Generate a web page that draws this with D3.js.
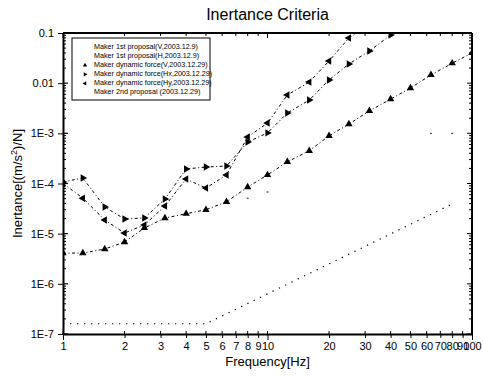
<!DOCTYPE html>
<html>
<head>
<meta charset="utf-8">
<script src="https://cdn.jsdelivr.net/npm/d3@7"></script>
<style>
  body { margin: 0; background: #fff; }
  text { font-family: "Liberation Sans", Arial, sans-serif; fill: #000; }
</style>
</head>
<body>
<div id="chart"></div>
<script>
// 1/3 octave band centre frequencies [Hz]
const freqs = [1, 1.25, 1.6, 2, 2.5, 3.15, 4, 5, 6.3, 8, 10, 12.5, 16, 20, 25, 31.5, 40, 50, 63, 80, 100];

// measured inertance [(m/s^2)/N]
const dynV  = [4.1e-6, 4.1e-6, 4.95e-6, 6.8e-6, 1.3e-5, 2.05e-5, 2.5e-5, 3.0e-5, 4.3e-5, 8.5e-5, 1.48e-4,
               2.7e-4, 4.5e-4, 8.9e-4, 1.53e-3, 2.8e-3, 4.8e-3, 8.0e-3, 0.0146, 0.025, 0.04];
const dynHx = [1.07e-4, 1.29e-4, 3.4e-5, 1.96e-5, 2.06e-5, 4.9e-5, 1.95e-4, 2.13e-4, 2.23e-4, 6.7e-4, 1.02e-3,
               2.54e-3, 4.6e-3, 0.0116, 0.0241, 0.0438, 0.091];
const dynHy = [1.0e-4, 5.1e-5, 1.87e-5, 1.03e-5, 1.49e-5, 3.56e-5, 1.23e-4, 8.1e-5, 1.48e-4, 8.45e-4, 1.6e-3,
               5.8e-3, 0.0105, 0.0277, 0.0795, 0.14];

// criteria lines
const secondFreq = [1, 5, 80];
const secondVal  = [1.6e-7, 1.6e-7, 3.9e-5];
// 1st proposal lines only show as faint fragments in the scan
const firstVFreq = [8, 10];
const firstVVal  = [5.1e-5, 6.8e-5];
const firstHFreq = [63, 80];
const firstHVal  = [1.0e-3, 1.0e-3];

const xTicks = [1, 2, 3, 4, 5, 6, 7, 8, 9, 10, 20, 30, 40, 50, 60, 70, 80, 90, 100];
const yTicks = [1e-7, 1e-6, 1e-5, 1e-4, 1e-3, 0.01, 0.1];
const yTickLabels = ["1E-7", "1E-6", "1E-5", "1E-4", "1E-3", "0.01", "0.1"];

const legendLabels = [
    "Maker  1st proposal(V,2003.12.9)",
    "Maker  1st proposal(H,2003.12.9)",
    "Maker  dynamic force(V,2003.12.29)",
    "Maker  dynamic force(Hx,2003.12.29)",
    "Maker  dynamic force(Hy,2003.12.29)",
    "Maker  2nd proposal  (2003.12.29)"
];

const W = 483, H = 379;
const margin = { top: 33, right: 11, bottom: 45, left: 63 };
const width = W - margin.left - margin.right;
const height = H - margin.top - margin.bottom;

const svg = d3.select("#chart").append("svg")
    .attr("width", W)
    .attr("height", H);

const x = d3.scaleLog().domain([1, 100]).range([0, width]);
const y = d3.scaleLog().domain([1e-7, 0.1]).range([height, 0]);

const g = svg.append("g")
    .attr("transform", `translate(${margin.left},${margin.top})`);

svg.append("defs").append("clipPath").attr("id", "clip")
    .append("rect").attr("width", width).attr("height", height);

// title
svg.append("text")
    .attr("x", margin.left + width / 2)
    .attr("y", 20)
    .attr("text-anchor", "middle")
    .style("font-size", "16px")
    .text("Inertance Criteria");

// minor ticks for y (2..9 in each decade)
const yMinor = [];
for (let e = -7; e < -1; e++) {
    for (let k = 2; k <= 9; k++) yMinor.push(k * Math.pow(10, e));
}

// left axis
const yAxis = d3.axisLeft(y).tickValues(yTicks)
    .tickFormat((d, i) => yTickLabels[i]).tickSize(5).tickSizeOuter(0);
const yg = g.append("g").call(yAxis);
yg.select(".domain").attr("stroke-width", 2);
yg.selectAll("text").style("font-size", "11px").attr("x", -9);

g.append("g").selectAll("line").data(yMinor).join("line")
    .attr("x1", 0).attr("x2", 3)
    .attr("y1", d => y(d)).attr("y2", d => y(d))
    .attr("stroke", "#000").attr("stroke-width", 1);
g.append("g").selectAll("line").data(yTicks).join("line")
    .attr("x1", 0).attr("x2", 5)
    .attr("y1", d => y(d)).attr("y2", d => y(d))
    .attr("stroke", "#000").attr("stroke-width", 1.2);

// right frame with inward ticks
g.append("line").attr("x1", width).attr("x2", width).attr("y1", 0).attr("y2", height)
    .attr("stroke", "#000").attr("stroke-width", 2);
g.append("g").selectAll("line").data(yMinor).join("line")
    .attr("x1", width - 3).attr("x2", width)
    .attr("y1", d => y(d)).attr("y2", d => y(d))
    .attr("stroke", "#000");
g.append("g").selectAll("line").data(yTicks).join("line")
    .attr("x1", width - 5).attr("x2", width)
    .attr("y1", d => y(d)).attr("y2", d => y(d))
    .attr("stroke", "#000");

// top frame
g.append("line").attr("x1", 0).attr("x2", width).attr("y1", 0).attr("y2", 0)
    .attr("stroke", "#000").attr("stroke-width", 2);
g.append("g").selectAll("line").data(xTicks).join("line")
    .attr("x1", d => x(d)).attr("x2", d => x(d))
    .attr("y1", 0).attr("y2", d => (d === 10 || d === 1 || d === 100) ? 5 : 3)
    .attr("stroke", "#000");

// bottom axis
const xAxis = d3.axisBottom(x).tickValues(xTicks)
    .tickFormat(d3.format("d")).tickSize(4).tickSizeOuter(0);
const xg = g.append("g").attr("transform", `translate(0,${height})`).call(xAxis);
xg.select(".domain").attr("stroke-width", 2);
xg.selectAll("text").style("font-size", "11px").attr("y", 8);
xg.selectAll(".tick line").attr("y2", d => (d === 10 || d === 1 || d === 100) ? 6 : 4);
g.append("g").selectAll("line").data(xTicks).join("line")
    .attr("x1", d => x(d)).attr("x2", d => x(d))
    .attr("y1", height - 3).attr("y2", height)
    .attr("stroke", "#000");

// axis titles
svg.append("text")
    .attr("x", margin.left + width / 2)
    .attr("y", 366)
    .attr("text-anchor", "middle")
    .style("font-size", "13px")
    .text("Frequency[Hz]");

const yl = svg.append("text")
    .attr("transform", `translate(22,${margin.top + height / 2}) rotate(-90)`)
    .attr("text-anchor", "middle")
    .style("font-size", "13px");
yl.append("tspan").text("Inertance[(m/s");
yl.append("tspan").attr("dy", -5).style("font-size", "9px").text("2");
yl.append("tspan").attr("dy", 5).text(")/N]");

// plotting
const plot = g.append("g").attr("clip-path", "url(#clip)");
const line = d3.line().x(d => x(d[0])).y(d => y(d[1]));
const zipF = (fs, vs) => vs.map((v, i) => [fs[i], v]);

// 2nd proposal: dotted
plot.append("path")
    .datum(zipF(secondFreq, secondVal))
    .attr("d", line)
    .attr("fill", "none")
    .attr("stroke", "#000")
    .attr("stroke-width", 1.2)
    .attr("stroke-dasharray", "1.3,5.7");

// 1st proposal fragments
[[firstVFreq, firstVVal], [firstHFreq, firstHVal]].forEach(([fs, vs]) => {
    plot.append("g").selectAll("rect").data(zipF(fs, vs)).join("rect")
        .attr("x", d => x(d[0]) - 1).attr("y", d => y(d[1]) - 0.5)
        .attr("width", 2).attr("height", 1.2)
        .attr("fill", "#444");
});

const tri = d3.symbol().type(d3.symbolTriangle).size(24);
const measured = [
    { data: zipF(freqs, dynV), rot: 0 },
    { data: zipF(freqs, dynHx), rot: 90 },
    { data: zipF(freqs, dynHy), rot: -90 }
];

measured.forEach(s => {
    plot.append("path")
        .datum(s.data)
        .attr("d", line)
        .attr("fill", "none")
        .attr("stroke", "#000")
        .attr("stroke-width", 1)
        .attr("stroke-dasharray", "3,2.5,1,2.5");
    plot.append("g").selectAll("path").data(s.data).join("path")
        .attr("d", tri)
        .attr("transform", d => `translate(${x(d[0])},${y(d[1])}) rotate(${s.rot})`)
        .attr("fill", "#000");
});

// legend
const lg = svg.append("g").attr("transform", "translate(72,38)");
lg.append("rect")
    .attr("width", 138).attr("height", 62)
    .attr("fill", "#fff").attr("stroke", "#000").attr("stroke-width", 1);
const legendRot = [null, null, 0, 90, -90, null];
legendLabels.forEach((t, i) => {
    const ry = 9 + i * 9.1;
    lg.append("text")
        .attr("x", 22).attr("y", ry)
        .attr("dominant-baseline", "middle")
        .style("font-size", "7.2px")
        .text(t);
    if (legendRot[i] !== null) {
        lg.append("path")
            .attr("d", d3.symbol().type(d3.symbolTriangle).size(8))
            .attr("transform", `translate(13,${ry}) rotate(${legendRot[i]})`)
            .attr("fill", "#000");
    }
});
</script>
</body>
</html>
